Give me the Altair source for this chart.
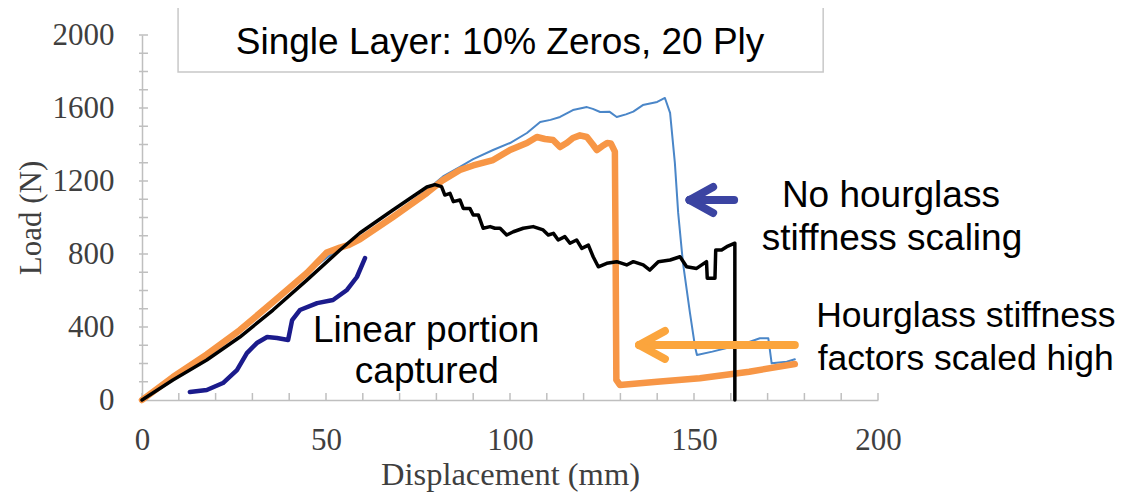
import altair as alt
import pandas as pd

# ---------------- data (displacement mm, load N) ----------------
black_x = [0, 8.4, 17.6, 26.6, 35.6, 44.8, 53.8, 59.2, 68.2, 77.4, 79.6, 81.4, 82.3, 83.7, 84.6,
           86.4, 87.3, 89.1, 90.0, 91.4, 92.7, 94.6, 95.9, 97.3, 99.1, 100.9, 103.6, 106.3, 109.0,
           110.4, 111.8, 113.1, 114.9, 116.3, 118.1, 119.5, 121.3, 122.6, 124.0, 126.3, 129.0,
           131.7, 133.5, 136.2, 138.0, 140.3, 143.5, 146.2, 148.0, 150.7, 153.4, 153.6, 155.7,
           155.9, 157.5, 158.9, 161.1, 161.1]
black_y = [0, 110, 219, 345, 493, 657, 822, 915, 1041, 1167, 1180, 1169, 1123, 1132, 1087,
           1096, 1050, 1050, 1014, 1014, 941, 950, 941, 941, 904, 922, 941, 950, 932,
           904, 913, 877, 895, 859, 877, 831, 849, 785, 730, 749, 758,
           740, 758, 740, 712, 758, 767, 785, 730, 721, 758, 667, 667,
           822, 822, 840, 859, 0]

orange_x = [0, 8.4, 17.6, 26.6, 35.6, 44.8, 50.2, 53.8, 56.0, 59.2, 68.2, 77.4, 81.8, 86.4, 90.0,
            95.4, 100.0, 104.6, 107.3, 109.5, 111.7, 113.6, 115.5, 117.1, 119.0, 120.9, 122.5,
            123.6, 125.0, 126.4, 127.4, 128.5, 128.7, 128.9, 129.9, 140.0, 151.6, 165.0, 177.4]
orange_y = [0, 126, 250, 383, 537, 696, 808, 835, 848, 880, 1003, 1134, 1205, 1260, 1285,
            1315, 1370, 1408, 1441, 1430, 1425, 1386, 1410, 1436, 1450, 1441, 1400,
            1370, 1390, 1408, 1406, 1361, 800, 110, 82, 100, 119, 155, 197]

blue_x = [0, 8.4, 17.6, 26.6, 35.6, 44.8, 53.8, 59.2, 68.2, 77.4, 81.8, 86.4, 90.0, 95.4, 100.0,
          104.6, 108.2, 111.0, 113.6, 117.1, 120.9, 122.5, 124.5, 127.0, 129.0, 131.5, 133.5,
          136.1, 140.0, 142.1, 143.5, 144.8, 145.7, 147.0, 148.9, 150.3, 150.8, 155.0, 160.0,
          165.0, 167.9, 170.2, 171.1, 175.2, 177.4]
blue_y = [0, 126, 250, 383, 537, 696, 835, 880, 1010, 1150, 1225, 1277, 1320, 1370, 1408,
          1463, 1523, 1535, 1551, 1589, 1605, 1595, 1578, 1580, 1551, 1565, 1580,
          1616, 1633, 1655, 1573, 1299, 1025, 751, 477, 290, 247, 265, 290,
          318, 338, 338, 201, 210, 223]

navy_x = [13.0, 17.6, 22.0, 25.8, 28.5, 31.2, 34.0, 36.7, 39.7, 40.8, 42.9, 47.6, 51.9, 55.7, 58.4, 60.6]
navy_y = [44, 55, 93, 164, 257, 312, 345, 340, 329, 438, 493, 531, 548, 603, 674, 778]

x_tick_vals = list(range(0, 201, 10))
y_tick_vals = list(range(0, 2001, 100))
x_label_vals = [0, 50, 100, 150, 200]
y_label_vals = [0, 400, 800, 1200, 1600, 2000]

# annotation texts (positions in data units)
center_texts = ["Single Layer: 10% Zeros, 20 Ply", "No hourglass", "stiffness scaling",
                "Linear portion", "captured"]
center_tx = [97.3, 203.5, 203.8, 77.2, 77.4]
center_ty = [1896, 1058, 822, 318, 93]
left_texts = ["Hourglass stiffness", "factors scaled high"]
left_tx = [183.2, 183.6]
left_ty = [400, 164]

# title box (data units)
box = {"x": [9.8], "x2": [185.1], "y": [1797], "y2": [2153]}

# arrows: segments (tip -> tail, tip -> arm ends)
blue_arrow = {"x": [148.8, 148.8, 148.8], "y": [1096, 1096, 1096],
              "x2": [160.9, 155.2, 155.2], "y2": [1096, 1167, 1025]}
orange_arrow = {"x": [135.1, 135.1, 135.1], "y": [301, 301, 301],
                "x2": [177.4, 142.1, 142.1], "y2": [301, 378, 225]}


def series(xs, ys):
    return pd.DataFrame({"x": xs, "y": ys, "i": list(range(len(xs)))})


SERIF = "Liberation Serif"
SANS = "Liberation Sans"
AXC = "#3f3f3f"

xscale = alt.Scale(domain=[0, 200], nice=False, zero=False)
yscale = alt.Scale(domain=[0, 2000], nice=False, zero=False)

xaxis = alt.Axis(values=x_label_vals, format="d", ticks=False, grid=False, domainColor="#bfbfbf",
                 domainWidth=1.5, labelFont=SERIF, labelFontSize=31, labelColor=AXC,
                 labelPadding=25, labelFlush=False, labelOverlap=False,
                 title="Displacement (mm)", titleFont=SERIF, titleFontSize=32.5,
                 titleFontWeight="normal", titleColor=AXC, titleBaseline="alphabetic",
                 titleY=84)
yaxis = alt.Axis(values=y_label_vals, format="d", ticks=False, grid=False, domainColor="#bfbfbf",
                 domainWidth=1.5, labelFont=SERIF, labelFontSize=31, labelColor=AXC,
                 labelPadding=28, labelFlush=False, labelOverlap=False,
                 title="Load (N)", titleFont=SERIF, titleFontSize=31,
                 titleFontWeight="normal", titleColor=AXC, titleBaseline="alphabetic",
                 titleX=-102)

X = alt.X("x:Q", scale=xscale, axis=xaxis)
Y = alt.Y("y:Q", scale=yscale, axis=yaxis)

base_line = lambda df, color, w: alt.Chart(df).mark_line(
    color=color, strokeWidth=w, strokeJoin="round", strokeCap="round"
).encode(x=X, y=Y, order="i:Q")

blue = base_line(series(blue_x, blue_y), "#4A86C8", 2)
orange = base_line(series(orange_x, orange_y), "#F79646", 6.5)
black = base_line(series(black_x, black_y), "#000000", 3.5)
navy = base_line(series(navy_x, navy_y), "#1B1B8C", 4.5)

yticks = alt.Chart(pd.DataFrame({"y": y_tick_vals})).mark_rule(
    color="#bfbfbf", strokeWidth=1.5
).encode(y=Y, x=alt.value(-3), x2=alt.value(6))
xticks = alt.Chart(pd.DataFrame({"x": x_tick_vals})).mark_rule(
    color="#bfbfbf", strokeWidth=1.5
).encode(x=X, y=alt.value(365), y2=alt.value(358))

title_box = alt.Chart(pd.DataFrame(box)).mark_rect(
    fill="white", stroke="#c8c8c8", strokeWidth=1.5
).encode(x=X, x2="x2:Q", y=Y, y2="y2:Q")

ctext = alt.Chart(pd.DataFrame({"x": center_tx, "y": center_ty, "t": center_texts})).mark_text(
    font=SANS, fontSize=37, align="center", baseline="alphabetic", color="black"
).encode(x=X, y=Y, text="t:N")
ltext = alt.Chart(pd.DataFrame({"x": left_tx, "y": left_ty, "t": left_texts})).mark_text(
    font=SANS, fontSize=35.5, align="left", baseline="alphabetic", color="black"
).encode(x=X, y=Y, text="t:N")

barrow = alt.Chart(pd.DataFrame(blue_arrow)).mark_rule(
    color="#3B44A2", strokeWidth=8, strokeCap="round"
).encode(x=X, y=Y, x2="x2:Q", y2="y2:Q")
oarrow = alt.Chart(pd.DataFrame(orange_arrow)).mark_rule(
    color="#FBA53D", strokeWidth=8, strokeCap="round"
).encode(x=X, y=Y, x2="x2:Q", y2="y2:Q")

chart = alt.layer(
    yticks, xticks, blue, orange, black, navy, title_box, ctext, ltext, barrow, oarrow
).properties(
    width=736, height=365,
    autosize=alt.AutoSizeParams(type="none"),
    padding={"left": 134, "top": 27, "right": 248, "bottom": 92},
    background="white",
).configure_view(stroke=None)

chart.save("out.html", embed_options={"renderer": "svg", "actions": False})
